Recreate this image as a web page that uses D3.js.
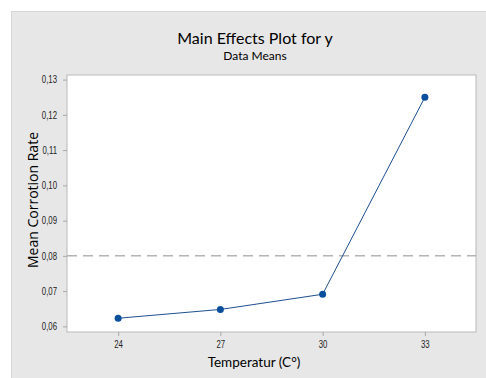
<!DOCTYPE html>
<html>
<head>
<meta charset="utf-8">
<script src="https://cdn.jsdelivr.net/npm/d3@7"></script>
<style>
  body { margin: 0; background: #fff; }
  svg { display: block; font-family: Lato, "Open Sans", sans-serif; }
</style>
</head>
<body>
<svg id="chart" width="486" height="378"></svg>
<script>
// data
const temps = ['24', '27', '30', '33'];
const means = [0.0623, 0.0648, 0.0691, 0.1250];
const yTicks = [0.06, 0.07, 0.08, 0.09, 0.10, 0.11, 0.12, 0.13];
const refLine = 0.08;

const svg = d3.select('#chart');
const plot = { left: 67, top: 75, right: 476, bottom: 332 };

// grey panel
svg.append('rect')
    .attr('x', 11.5).attr('y', 11.5)
    .attr('width', 486).attr('height', 378)
    .attr('fill', '#e7e7e7')
    .attr('stroke', '#d6d6d6');

svg.append('rect')
    .attr('x', plot.left).attr('y', plot.top)
    .attr('width', plot.right - plot.left).attr('height', plot.bottom - plot.top)
    .attr('fill', '#fff')
    .attr('stroke', '#b9b9b9');

const x = d3.scalePoint().domain(temps).range([plot.left, plot.right]).padding(0.5);
const y = d3.scaleLinear().domain([0.0584, 0.1313]).range([plot.bottom, plot.top]);

const fmt = d => d3.format('.2f')(d).replace('.', ',');

const yAxis = svg.append('g')
    .attr('transform', `translate(${plot.left},0)`)
    .call(d3.axisLeft(y).tickValues(yTicks).tickFormat(fmt).tickSize(4).tickPadding(6));
const xAxis = svg.append('g')
    .attr('transform', `translate(0,${plot.bottom})`)
    .call(d3.axisBottom(x).tickSize(4).tickPadding(5));

// Minitab's tick font is condensed, squeeze the labels a bit
const squeeze = 0.78;
[yAxis, xAxis].forEach(g => {
    g.select('.domain').remove();
    g.selectAll('.tick line').attr('stroke', '#a8a8a8');
    g.selectAll('.tick text')
        .attr('fill', '#222')
        .style('font-size', '10px');
});
yAxis.selectAll('.tick text')
    .attr('x', -10 / squeeze)
    .attr('transform', `scale(${squeeze},1)`);
xAxis.selectAll('.tick text')
    .attr('transform', `scale(${squeeze},1)`);

// reference line (overall mean)
svg.append('line')
    .attr('x1', plot.left).attr('x2', plot.right)
    .attr('y1', y(refLine)).attr('y2', y(refLine))
    .attr('stroke', '#b4b4b4')
    .attr('stroke-width', 1.5)
    .attr('stroke-dasharray', '10,6');

const pts = temps.map((t, i) => ({ t, v: means[i] }));

svg.append('path')
    .datum(pts)
    .attr('fill', 'none')
    .attr('stroke', '#1d4f8f')
    .attr('stroke-width', 1)
    .attr('d', d3.line().x(d => x(d.t)).y(d => y(d.v)));

svg.selectAll('circle.pt')
    .data(pts)
    .enter()
    .append('circle')
    .attr('class', 'pt')
    .attr('cx', d => x(d.t))
    .attr('cy', d => y(d.v))
    .attr('r', 3.5)
    .attr('fill', '#0b4f9c');

// titles
svg.append('text')
    .attr('x', 255).attr('y', 44)
    .attr('text-anchor', 'middle')
    .attr('fill', '#000')
    .style('font-size', '16px')
    .text('Main Effects Plot for y');

svg.append('text')
    .attr('x', 255).attr('y', 60)
    .attr('text-anchor', 'middle')
    .attr('fill', '#000')
    .style('font-size', '12px')
    .text('Data Means');

svg.append('text')
    .attr('x', 254).attr('y', 367)
    .attr('text-anchor', 'middle')
    .attr('fill', '#000')
    .style('font-size', '13.5px')
    .text('Temperatur (C°)');

svg.append('text')
    .attr('transform', 'translate(38,200) rotate(-90)')
    .attr('text-anchor', 'middle')
    .attr('fill', '#000')
    .style('font-family', '"Open Sans", Lato, sans-serif')
    .style('font-size', '14px')
    .text('Mean Corrotion Rate');
</script>
</body>
</html>
